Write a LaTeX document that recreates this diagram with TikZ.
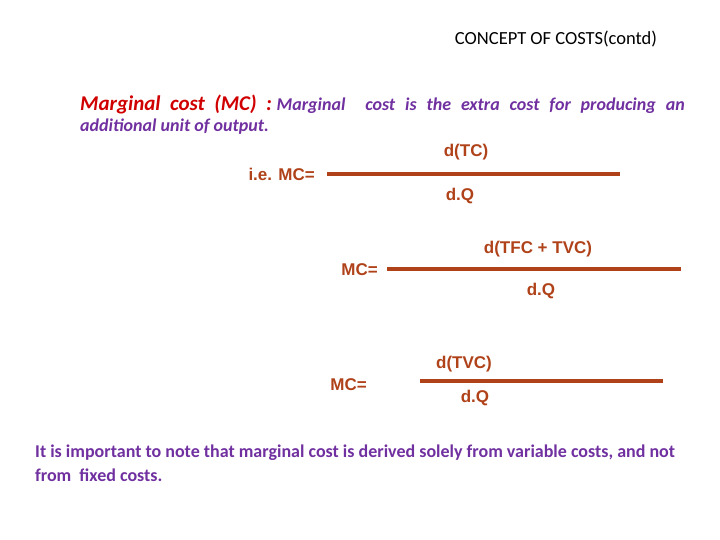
\documentclass[tikz,border=0pt]{standalone}
\usepackage{fontspec}
\setmainfont{Carlito}
\newfontfamily\arial{Liberation Sans}
\definecolor{brn}{HTML}{B0421A}
\definecolor{pur}{HTML}{7030A0}
\definecolor{rd}{HTML}{D00000}
\begin{document}
\begin{tikzpicture}[x=1pt,y=-1pt,
  frm/.style={font=\arial\bfseries\fontsize{17}{19}\selectfont,text=brn,inner sep=0pt},
  bar/.style={draw=brn,line width=4.5pt},
  pt/.style={anchor=west,inner sep=0pt}]
\useasboundingbox (0,0) rectangle (720,540);
\node[inner sep=0pt] (title) at (556,39) {\fontsize{18.5}{20}\selectfont CONCEPT OF COSTS(contd)};
\node[pt] (def1) at (80,104) {\bfseries\itshape\color{rd}\fontsize{21}{23}\selectfont Marginal\hspace{0.45em}cost\hspace{0.45em}(MC)\hspace{0.45em}: \color{pur}\fontsize{18}{20}\selectfont\spaceskip=0.55em Marginal\ \ cost is the extra cost for producing an};
\node[pt] (def2) at (80,127) {\bfseries\itshape\color{pur}\fontsize{18}{20}\selectfont additional unit of output.};
% formula 1
\node[frm,anchor=east] (m1) at (315,174) {i.e. MC=};
\coordinate (a1) at (327,174); \coordinate (b1) at (620,174);
\draw[bar] (a1) -- (b1);
\node[frm] (n1) at (466,152) {d(TC)};
\node[frm] (d1) at (460,196) {d.Q};
% formula 2
\node[frm,anchor=east] (m2) at (378,270) {MC=};
\coordinate (a2) at (387,269); \coordinate (b2) at (681,269);
\draw[bar] (a2) -- (b2);
\node[frm] (n2) at (538,249) {d(TFC + TVC)};
\node[frm] (d2) at (541,291) {d.Q};
% formula 3
\node[frm,anchor=east] (m3) at (367,385) {MC=};
\coordinate (a3) at (420,381); \coordinate (b3) at (663,381);
\draw[bar] (a3) -- (b3);
\node[frm] (n3) at (464,364) {d(TVC)};
\node[frm] (d3) at (475,398) {d.Q};
% note
\node[pt] (note1) at (35,453) {\bfseries\color{pur}\fontsize{18}{20}\selectfont It is important to note that marginal cost is derived solely from variable costs, and not};
\node[pt] (note2) at (35,475) {\bfseries\color{pur}\fontsize{18}{20}\selectfont from\ \ fixed costs.};
\end{tikzpicture}
\end{document}
